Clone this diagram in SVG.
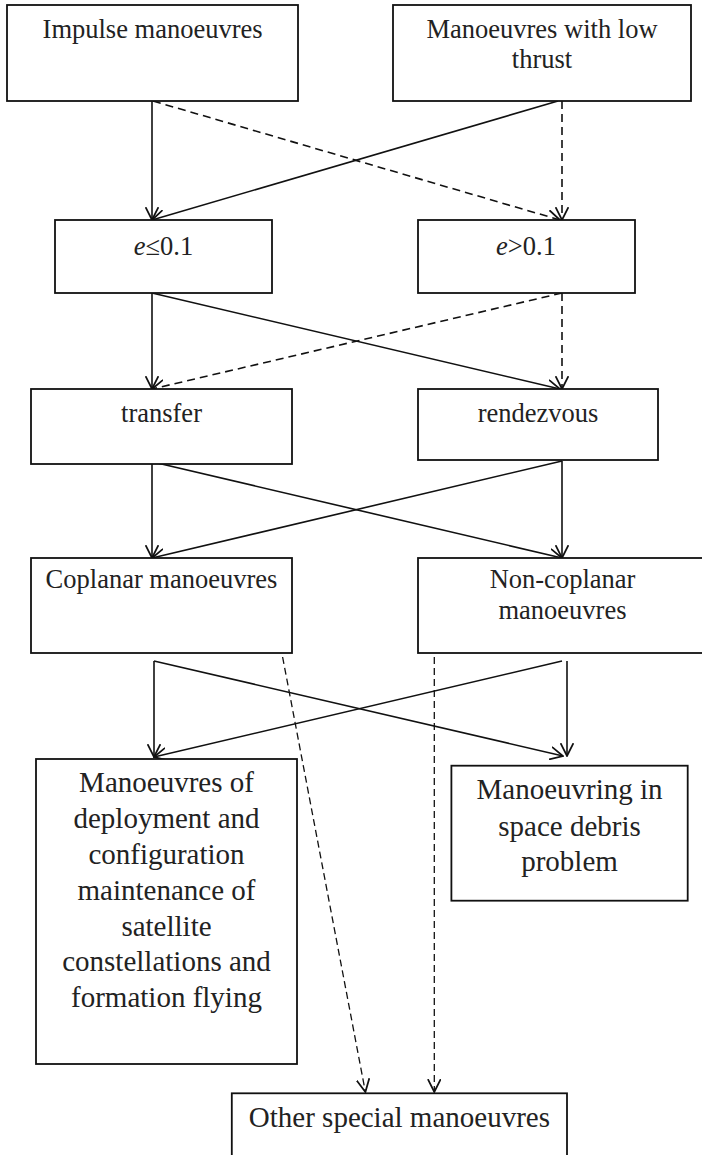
<svg xmlns="http://www.w3.org/2000/svg" width="702" height="1155" viewBox="0 0 702 1155">
<style>
.box{fill:#fff;stroke:#111;stroke-width:1.8}
.t{fill:#222;text-anchor:middle}
.s{font-size:26.5px}
.b{font-size:29px}
.c{fill:none;stroke:#111;stroke-width:1.6}
.d{stroke-dasharray:8,5}
.d2{stroke-dasharray:7,4;stroke-width:1.3}
</style>
<defs>
<marker id="ah" markerUnits="userSpaceOnUse" markerWidth="14" markerHeight="14" viewBox="0 0 12 12" refX="11" refY="6" orient="auto">
<path d="M0,0.5 L11,6 L0,11.5" fill="none" stroke="#111" stroke-width="1.5" stroke-dasharray="none"/>
</marker>
</defs>
<rect width="702" height="1155" fill="#fff"/>
<g id="connectors">
<line class="c" x1="152" y1="101" x2="152" y2="220" marker-end="url(#ah)"/>
<line class="c d" x1="153" y1="101" x2="560" y2="220" marker-end="url(#ah)"/>
<line class="c" x1="558" y1="101" x2="152" y2="220" marker-end="url(#ah)"/>
<line class="c d" x1="562" y1="101" x2="562" y2="220" marker-end="url(#ah)"/>
<line class="c" x1="152" y1="293" x2="152" y2="389" marker-end="url(#ah)"/>
<line class="c" x1="152" y1="293" x2="560" y2="389" marker-end="url(#ah)"/>
<line class="c d" x1="562" y1="293" x2="152" y2="389" marker-end="url(#ah)"/>
<line class="c d" x1="562" y1="293" x2="562" y2="389" marker-end="url(#ah)"/>
<line class="c" x1="152" y1="464" x2="152" y2="558" marker-end="url(#ah)"/>
<line class="c" x1="153" y1="462" x2="562" y2="558" marker-end="url(#ah)"/>
<line class="c" x1="562" y1="461" x2="152" y2="558" marker-end="url(#ah)"/>
<line class="c" x1="562" y1="461" x2="562" y2="558" marker-end="url(#ah)"/>
<line class="c" x1="154" y1="661" x2="154" y2="757" marker-end="url(#ah)"/>
<line class="c" x1="154" y1="661" x2="563" y2="756" marker-end="url(#ah)"/>
<line class="c" x1="562" y1="661" x2="154" y2="757" marker-end="url(#ah)"/>
<line class="c" x1="567" y1="661" x2="567" y2="756" marker-end="url(#ah)"/>
<line class="c d2" x1="282.6" y1="657" x2="365.4" y2="1092" marker-end="url(#ah)"/>
<line class="c d2" x1="434.3" y1="657" x2="434.3" y2="1092" marker-end="url(#ah)"/>
</g>
<g font-family="Liberation Serif, Times New Roman, DejaVu Serif, serif">
<g id="impulse">
<rect class="box" x="7" y="5" width="291" height="96"/>
<text class="t s" x="152.6" y="37.5">Impulse manoeuvres</text>
</g>
<g id="lowthrust">
<rect class="box" x="393" y="5" width="298" height="96"/>
<text class="t s" x="542" y="37.5">Manoeuvres with low</text>
<text class="t s" x="542" y="68">thrust</text>
</g>
<g id="elow">
<rect class="box" x="55" y="220" width="217" height="73"/>
<text class="t s" x="163.5" y="255"><tspan font-style="italic">e</tspan>≤0.1</text>
</g>
<g id="ehigh">
<rect class="box" x="418" y="220" width="217" height="73"/>
<text class="t s" x="526" y="255"><tspan font-style="italic">e</tspan>&gt;0.1</text>
</g>
<g id="transfer">
<rect class="box" x="31" y="389" width="261" height="75"/>
<text class="t s" x="161.5" y="421.7">transfer</text>
</g>
<g id="rendezvous">
<rect class="box" x="418" y="389" width="240" height="71"/>
<text class="t s" x="538" y="421.7">rendezvous</text>
</g>
<g id="coplanar">
<rect class="box" x="31" y="558" width="261" height="95"/>
<text class="t s" x="161.5" y="588.3">Coplanar manoeuvres</text>
</g>
<g id="noncoplanar">
<rect class="box" x="418" y="558" width="290" height="95"/>
<text class="t s" x="562.5" y="588.3">Non-coplanar</text>
<text class="t s" x="562.5" y="619.3">manoeuvres</text>
</g>
<g id="deployment">
<rect class="box" x="36" y="759" width="261" height="305"/>
<text class="t b" x="166.5" y="792.3">Manoeuvres of</text>
<text class="t b" x="166.5" y="828">deployment and</text>
<text class="t b" x="166.5" y="864">configuration</text>
<text class="t b" x="166.5" y="899.5">maintenance of</text>
<text class="t b" x="166.5" y="935.5">satellite</text>
<text class="t b" x="166.5" y="971">constellations and</text>
<text class="t b" x="166.5" y="1007">formation flying</text>
</g>
<g id="debris">
<rect class="box" x="451.4" y="765.7" width="236.3" height="135"/>
<text class="t b" x="569.5" y="799.3">Manoeuvring in</text>
<text class="t b" x="569.5" y="835.7">space debris</text>
<text class="t b" x="569.5" y="871">problem</text>
</g>
<g id="other">
<rect class="box" x="231.8" y="1093.3" width="335.2" height="70"/>
<text class="t b" x="399.4" y="1126.7">Other special manoeuvres</text>
</g>
</g>
</svg>
